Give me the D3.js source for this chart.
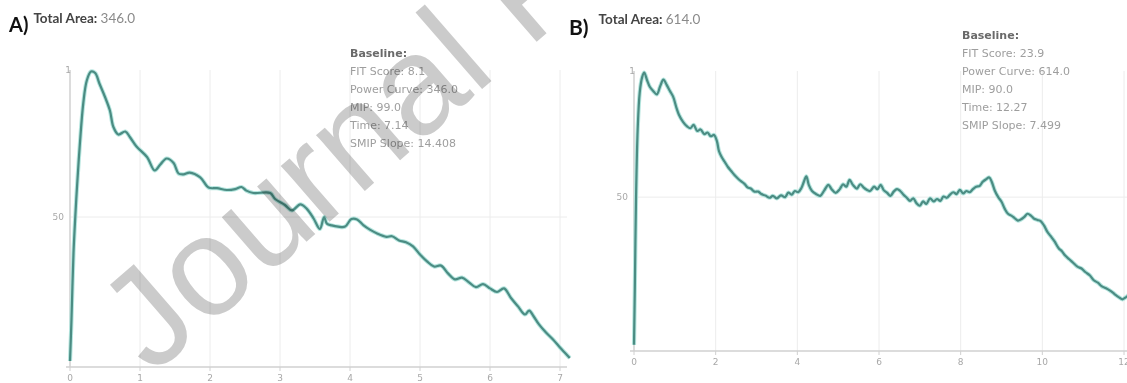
<!DOCTYPE html>
<html>
<head>
<meta charset="utf-8">
<script src="https://cdn.jsdelivr.net/npm/d3@7"></script>
<style>
  body { margin: 0; background: #fff; }
  svg { display: block; }
  .grid { stroke: #ececec; stroke-width: 1; }
  .axis-line { stroke: #d0d0d0; stroke-width: 1.5; }
  .tick-label { font-family: 'DejaVu Sans', sans-serif; font-size: 9px; fill: #a8a8a8; }
  .info { font-family: 'DejaVu Sans', sans-serif; font-size: 11px; fill: #9e9e9e; }
  .info-head { font-weight: bold; fill: #6a6a6a; }
  .watermark { font-family: 'Liberation Sans', Arial, sans-serif; font-size: 140px; fill: #cbcbcb; mix-blend-mode: multiply; }
</style>
</head>
<body>
<svg id="chart" width="1127" height="383"></svg>
<script>
// panel A : time (s) vs power (%)
const timeA = [0.00, 0.02, 0.05, 0.08, 0.10, 0.14, 0.19, 0.24, 0.30, 0.36, 0.42, 0.50, 0.57, 0.62, 0.69,
  0.79, 0.86, 0.95, 1.10, 1.21, 1.29, 1.38, 1.48, 1.55, 1.62, 1.71, 1.86, 1.98, 2.10, 2.24, 2.36, 2.45,
  2.52, 2.62, 2.86, 2.93, 3.07, 3.17, 3.29, 3.38, 3.48, 3.57, 3.63, 3.67, 3.74, 3.83, 3.93, 4.02, 4.10,
  4.19, 4.29, 4.38, 4.52, 4.60, 4.70, 4.80, 4.90, 5.00, 5.10, 5.20, 5.30, 5.40, 5.50, 5.60, 5.70, 5.80,
  5.90, 6.00, 6.10, 6.20, 6.30, 6.40, 6.50, 6.56, 6.62, 6.70, 6.80, 6.90, 7.00, 7.08, 7.14];
const powerA = [2, 15, 38, 52, 60, 74, 88, 95.5, 98.5, 98, 94.5, 90, 85.5, 80, 77.5,
  78.5, 76.5, 73.5, 70, 65.5, 67.5, 69.5, 68, 64.5, 64.2, 64.8, 63.2, 59.8, 59.6, 59, 59.3, 60,
  58.8, 58, 58, 56, 54, 52.2, 54.2, 52.8, 49.5, 46, 50, 47.8, 47.2, 46.8, 46.8, 49.3, 49.2,
  47.3, 45.7, 44.6, 43.4, 43.6, 42.2, 41.6, 40.2, 37.5, 35.2, 33.5, 33.8, 31.2, 29.2, 29.8, 28.2, 26.6,
  27.6, 26.2, 25, 26.2, 23, 20.2, 17.5, 18.8, 17, 14.2, 11.5, 9.2, 6.5, 4.5, 3];

// panel B
const timeB = [0.00, 0.02, 0.05, 0.09, 0.14, 0.20, 0.25, 0.32, 0.39, 0.47, 0.56, 0.64, 0.72, 0.80, 0.88,
  0.96, 1.04, 1.10, 1.20, 1.30, 1.38, 1.46, 1.55, 1.63, 1.72, 1.80, 1.88, 1.96, 2.03, 2.08, 2.14, 2.22,
  2.30, 2.38, 2.46, 2.55, 2.62, 2.70, 2.78, 2.86, 2.95, 3.04, 3.12, 3.22, 3.32, 3.40, 3.50, 3.60, 3.70,
  3.78, 3.86, 3.94, 4.02, 4.10, 4.16, 4.22, 4.28, 4.36, 4.46, 4.56, 4.66, 4.76, 4.84, 4.94, 5.04, 5.12,
  5.20, 5.28, 5.36, 5.46, 5.54, 5.62, 5.70, 5.78, 5.88, 5.96, 6.04, 6.12, 6.20, 6.28, 6.36, 6.44, 6.52,
  6.60, 6.68, 6.76, 6.84, 6.92, 7.00, 7.08, 7.16, 7.25, 7.34, 7.42, 7.50, 7.58, 7.66, 7.74, 7.82, 7.90,
  7.98, 8.06, 8.14, 8.22, 8.30, 8.38, 8.46, 8.54, 8.62, 8.70, 8.76, 8.84, 8.92, 9.00, 9.08, 9.16, 9.24,
  9.32, 9.40, 9.48, 9.56, 9.64, 9.72, 9.80, 9.88, 9.96, 10.04, 10.12, 10.20, 10.30, 10.40, 10.48, 10.56,
  10.66, 10.76, 10.86, 10.96, 11.06, 11.16, 11.26, 11.36, 11.46, 11.56, 11.66, 11.76, 11.86, 11.96,
  12.06, 12.16, 12.27];
const powerB = [2, 20, 50, 72, 84, 89, 90.5, 88, 85.8, 84.5, 83.4, 86, 88.2, 86.5, 84.5,
  82.6, 79, 76.8, 74.5, 73, 72.4, 73.5, 71.5, 72, 70.5, 71, 69.8, 70.2, 68.2, 65, 63.2, 61.5,
  59.8, 58.5, 57.2, 56, 55.2, 54.4, 53.2, 52.8, 51.8, 51.8, 51, 50.5, 49.8, 50.4, 49.6, 50.6, 50,
  51.5, 50.8, 52, 51.6, 53, 55, 56.8, 54, 52, 51, 50.4, 52.2, 54, 52.6, 51.4, 52.6, 54.2,
  53.4, 55.6, 54, 52.8, 54.2, 53.2, 52.4, 52, 53.4, 52.6, 54, 52.2, 51.4, 50.4, 51.8, 52.6, 52,
  50.8, 49.8, 48.8, 49.6, 48, 47.2, 48.6, 47.8, 49.6, 48.6, 49.4, 48.8, 50.2, 49.8, 50.8, 51.6, 51,
  52.4, 51.2, 52, 51.6, 52.6, 53.4, 53.6, 55, 55.8, 56.4, 55, 52, 50, 48.5, 46.2, 44.6, 44,
  43.2, 42.4, 42.8, 43.6, 44.6, 44, 43, 42.6, 42.2, 40.8, 38.8, 37.4, 35.6, 33.4, 32.4, 31,
  29.8, 28.6, 27.4, 26.8, 25.6, 24.6, 23, 22.2, 21, 20.4, 19.6, 18.6, 17.6, 16.8,
  17.6, 18.6, 18];

const xTicksA = [0, 1, 2, 3, 4, 5, 6, 7];
const xTicksB = [0, 2, 4, 6, 8, 10, 12];
const yTickValues = [50];
const infoLinesA = ['FIT Score: 8.1', 'Power Curve: 346.0', 'MIP: 99.0', 'Time: 7.14', 'SMIP Slope: 14.408'];
const infoLinesB = ['FIT Score: 23.9', 'Power Curve: 614.0', 'MIP: 90.0', 'Time: 12.27', 'SMIP Slope: 7.499'];

const svg = d3.select('#chart');

function drawPanel(opt) {
  const g = svg.append('g');
  const x = d3.scaleLinear().domain(opt.xDomain).range(opt.xRange);
  const y = d3.scaleLinear().domain(opt.yDomain).range(opt.yRange);
  const [y0, y1] = opt.yRange;

  // vertical grid
  g.selectAll('line.vgrid').data(opt.xTicks.filter(d => d > 0)).enter().append('line')
    .attr('class', 'grid')
    .attr('x1', d => x(d)).attr('x2', d => x(d))
    .attr('y1', y0).attr('y2', y1);
  // horizontal grid
  g.selectAll('line.hgrid').data(yTickValues).enter().append('line')
    .attr('class', 'grid')
    .attr('x1', opt.xRange[0]).attr('x2', opt.gridRight)
    .attr('y1', d => y(d)).attr('y2', d => y(d));

  // axes
  g.append('line').attr('class', 'axis-line')
    .attr('x1', opt.xRange[0] - 4).attr('x2', opt.gridRight)
    .attr('y1', y0).attr('y2', y0);
  g.append('line').attr('class', 'axis-line')
    .attr('x1', opt.xRange[0]).attr('x2', opt.xRange[0])
    .attr('y1', y0).attr('y2', y1);

  // x ticks
  g.selectAll('line.xt').data(opt.xTicks).enter().append('line')
    .attr('stroke', '#d0d0d0')
    .attr('x1', d => x(d)).attr('x2', d => x(d))
    .attr('y1', y0).attr('y2', y0 + 4);
  g.selectAll('text.xl').data(opt.xTicks).enter().append('text')
    .attr('class', 'tick-label')
    .attr('text-anchor', 'middle')
    .attr('x', d => x(d)).attr('y', y0 + 14)
    .text(d => d);

  // y ticks
  g.selectAll('text.yl').data(yTickValues).enter().append('text')
    .attr('class', 'tick-label')
    .attr('text-anchor', 'end')
    .attr('x', opt.xRange[0] - 6).attr('y', d => y(d) + 3)
    .text(d => d);
  g.append('text').attr('class', 'tick-label')
    .attr('text-anchor', 'end')
    .attr('x', opt.xRange[0] + 1).attr('y', y1 + 3)
    .text('1');

  // curve
  const pts = opt.t.map((t, i) => [t, opt.v[i]]);
  const line = d3.line().x(d => x(d[0])).y(d => y(d[1])).curve(d3.curveCatmullRom.alpha(0.5));
  g.append('path').datum(pts)
    .attr('fill', 'none').attr('stroke', '#b6e6df').attr('stroke-width', 4.2)
    .attr('stroke-linejoin', 'round').attr('d', line);
  g.append('path').datum(pts)
    .attr('fill', 'none').attr('stroke', '#4b8c83').attr('stroke-width', 2.2)
    .attr('stroke-linejoin', 'round').attr('d', line);

  // title
  const title = g.append('text').attr('x', opt.titleX).attr('y', opt.titleY);
  title.append('tspan').text(opt.label)
    .attr('font-family', 'Lato, sans-serif').attr('font-weight', 'bold')
    .attr('font-size', opt.labelSize).attr('fill', '#111');
  title.append('tspan').text('Total Area: ')
    .attr('dx', opt.titleGap).attr('dy', opt.titleDy)
    .attr('font-family', 'Lato, sans-serif').attr('font-weight', 'bold')
    .attr('font-size', 13.5).attr('fill', '#444');
  title.append('tspan').text(opt.area)
    .attr('font-family', 'Lato, sans-serif')
    .attr('font-size', 13.5).attr('fill', '#8a8a8a');

  // info box
  const info = g.append('g').attr('transform', `translate(${opt.infoX},${opt.infoY})`);
  info.append('text').attr('class', 'info info-head').attr('y', 0).text('Baseline:');
  info.selectAll('text.ln').data(opt.info).enter().append('text')
    .attr('class', 'info')
    .attr('y', (d, i) => (i + 1) * 18)
    .text(d => d);
}

drawPanel({
  t: timeA, v: powerA, xTicks: xTicksA,
  xDomain: [0, 7], xRange: [70, 560], yDomain: [0, 99], yRange: [367, 70], gridRight: 567,
  label: 'A)', labelSize: 20, area: '346.0', titleX: 9, titleY: 32, titleGap: 5, titleDy: -9,
  info: infoLinesA, infoX: 350, infoY: 57
});
drawPanel({
  t: timeB, v: powerB, xTicks: xTicksB,
  xDomain: [0, 12], xRange: [634, 1124], yDomain: [0, 91], yRange: [351, 71], gridRight: 1127,
  label: 'B)', labelSize: 21, area: '614.0', titleX: 569, titleY: 35, titleGap: 10, titleDy: -11,
  info: infoLinesB, infoX: 962, infoY: 39
});

// watermark
svg.append('text').attr('class', 'watermark')
  .attr('transform', 'translate(152,376) rotate(-41)')
  .text('Journal Pre-proof');
</script>
</body>
</html>
